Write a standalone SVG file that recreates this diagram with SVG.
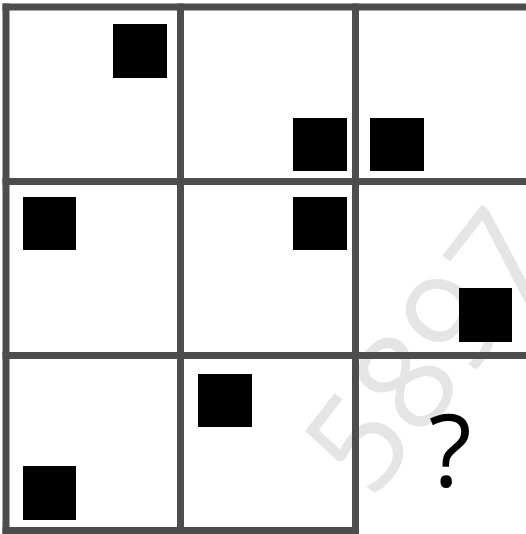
<svg xmlns="http://www.w3.org/2000/svg" width="526" height="534" viewBox="0 0 526 534">
  <style>
    .grid { stroke: #4d4d4d; stroke-width: 7; fill: none; stroke-linecap: square; }
    .sq { fill: #000000; }
    .wm { fill: #e5e5e5; font-family: "Open Sans", "Noto Sans", sans-serif; font-size: 135px; }
    .q { fill: #000000; font-family: "Open Sans", "Noto Sans", sans-serif; font-size: 100px; text-anchor: middle; }
  </style>
  <rect x="0" y="0" width="526" height="534" fill="#ffffff"/>
  <text class="wm" x="372" y="502" transform="rotate(-52 372 502)">5897</text>
  <g id="grid-lines">
    <line class="grid" x1="6" y1="7" x2="530" y2="7"/>
    <line class="grid" x1="6" y1="181.5" x2="530" y2="181.5"/>
    <line class="grid" x1="6" y1="355.5" x2="530" y2="355.5"/>
    <line class="grid" x1="6" y1="530.5" x2="355.5" y2="530.5"/>
    <line class="grid" x1="6" y1="7" x2="6" y2="530.5"/>
    <line class="grid" x1="180.5" y1="7" x2="180.5" y2="530.5"/>
    <line class="grid" x1="355.5" y1="7" x2="355.5" y2="530.5"/>
  </g>
  <g id="cell-1-1"><rect class="sq" x="113" y="24" width="54" height="54"/></g>
  <g id="cell-1-2"><rect class="sq" x="293" y="118" width="54" height="53"/></g>
  <g id="cell-1-3"><rect class="sq" x="370" y="118" width="54" height="53"/></g>
  <g id="cell-2-1"><rect class="sq" x="23" y="197" width="53" height="53"/></g>
  <g id="cell-2-2"><rect class="sq" x="293" y="197" width="54" height="53"/></g>
  <g id="cell-2-3"><rect class="sq" x="459" y="288" width="53" height="54"/></g>
  <g id="cell-3-1"><rect class="sq" x="23" y="466" width="53" height="54"/></g>
  <g id="cell-3-2"><rect class="sq" x="198" y="374" width="54" height="53"/></g>
  <g id="cell-3-3"><text class="q" x="450" y="487">?</text></g>
</svg>
